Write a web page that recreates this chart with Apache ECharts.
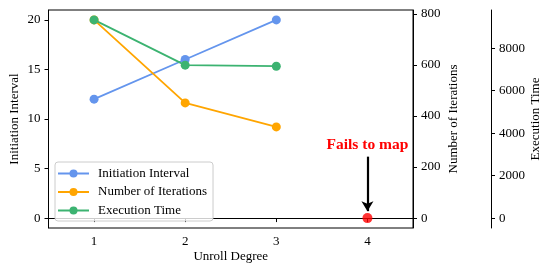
<!DOCTYPE html>
<html><head><meta charset="utf-8">
<script src="https://cdn.jsdelivr.net/npm/echarts@6/dist/echarts.min.js"></script>
<style>html,body{margin:0;padding:0;background:#fff}#c{width:553px;height:275px}</style>
</head><body><div id="c"></div>
<script>
const unroll = [1, 2, 3];
const initiationInterval = [12, 16, 20];
const numIterations = [776, 451, 357];
const executionTime = [9330, 7200, 7150];
const failPoint = [[4, 0]];
const xTicks = [1, 2, 3, 4];
const iiTicks = [0, 5, 10, 15, 20];
const iterTicks = [0, 200, 400, 600, 800];
const execTicks = [0, 2000, 4000, 6000, 8000];

const F = "'Liberation Serif', 'Times New Roman', serif";
const txt = {fontFamily: F, fontSize: 13, color: '#000'};
const axLine = {show: true, lineStyle: {color: '#000', width: 1}};
const tick = {show: true, length: 4, lineStyle: {color: '#000'}};
const plain = v => String(v);

const chart = echarts.init(document.getElementById('c'), null, {renderer: 'canvas'});
chart.setOption({
  animation: false,
  grid: {left: 48.5, right: 140, top: 10, bottom: 47, show: true, borderColor: '#000', borderWidth: 1,
    outerBoundsMode: 'none', containLabel: false},
  legend: {
    orient: 'vertical', left: 55, top: 162,
    data: ['Initiation Interval', 'Number of Iterations', 'Execution Time'],
    itemWidth: 31, itemHeight: 10, itemGap: 5.5,
    textStyle: Object.assign({padding: [0, 0, 0, 4]}, txt), padding: [5, 6, 4, 2],
    borderColor: '#ccc', borderWidth: 1, borderRadius: 3,
    backgroundColor: 'rgba(255,255,255,0.8)'
  },
  xAxis: {
    type: 'value', min: 0.5, max: 4.5,
    name: 'Unroll Degree', nameLocation: 'middle', nameGap: 22, nameMoveOverlap: false, nameTextStyle: txt,
    axisLine: axLine,
    axisTick: Object.assign({customValues: xTicks}, tick),
    axisLabel: Object.assign({customValues: xTicks, margin: 7, formatter: plain}, txt),
    splitLine: {show: false}
  },
  yAxis: [
    {
      type: 'value', min: -1, max: 21, position: 'left',
      name: 'Initiation Interval', nameLocation: 'middle', nameGap: 27, nameMoveOverlap: false, nameTextStyle: txt,
      axisLine: axLine,
      axisTick: Object.assign({customValues: iiTicks}, tick),
      axisLabel: Object.assign({customValues: iiTicks, margin: 8, formatter: plain}, txt),
      splitLine: {show: false}
    },
    {
      type: 'value', min: -38.8, max: 814.8, position: 'right',
      name: 'Number of Iterations', nameLocation: 'middle', nameGap: 34.5, nameMoveOverlap: false, nameTextStyle: txt,
      axisLine: axLine,
      axisTick: Object.assign({customValues: iterTicks}, tick),
      axisLabel: Object.assign({customValues: iterTicks, margin: 8, formatter: plain}, txt),
      splitLine: {show: false}
    },
    {
      type: 'value', min: -466.5, max: 9796.5, position: 'right', offset: 78,
      name: 'Execution Time', nameLocation: 'middle', nameGap: 38.5, nameMoveOverlap: false, nameTextStyle: txt,
      axisLine: axLine,
      axisTick: Object.assign({customValues: execTicks}, tick),
      axisLabel: Object.assign({customValues: execTicks, margin: 8, formatter: plain}, txt),
      splitLine: {show: false}
    }
  ],
  series: [
    {
      name: 'Initiation Interval', type: 'line', yAxisIndex: 0,
      data: unroll.map((u, i) => [u, initiationInterval[i]]),
      color: '#6495ED', lineStyle: {width: 1.8}, symbol: 'circle', symbolSize: 9
    },
    {
      name: 'Number of Iterations', type: 'line', yAxisIndex: 1,
      data: unroll.map((u, i) => [u, numIterations[i]]),
      color: '#FFA500', lineStyle: {width: 1.8}, symbol: 'circle', symbolSize: 9
    },
    {
      name: 'Execution Time', type: 'line', yAxisIndex: 2,
      data: unroll.map((u, i) => [u, executionTime[i]]),
      color: '#3CB371', lineStyle: {width: 1.8}, symbol: 'circle', symbolSize: 9
    },
    {
      name: 'fail', type: 'scatter', yAxisIndex: 0,
      data: failPoint, symbolSize: 10, itemStyle: {color: '#FF0000'}, z: 5,
      markLine: {
        silent: true, symbol: ['none', 'arrow'], symbolSize: [9, 10],
        lineStyle: {color: '#000', width: 2.2, type: 'solid'},
        label: {show: false},
        data: [[{coord: [4, 6.2]}, {coord: [4, 0.7]}]]
      },
      markPoint: {
        silent: true, symbol: 'circle', symbolSize: 0,
        label: {show: true, formatter: 'Fails to map', color: '#FF0000', fontFamily: F,
          fontWeight: 'bold', fontSize: 15.5, position: 'inside'},
        data: [{coord: [4, 7.4]}]
      }
    }
  ]
});
</script></body></html>
